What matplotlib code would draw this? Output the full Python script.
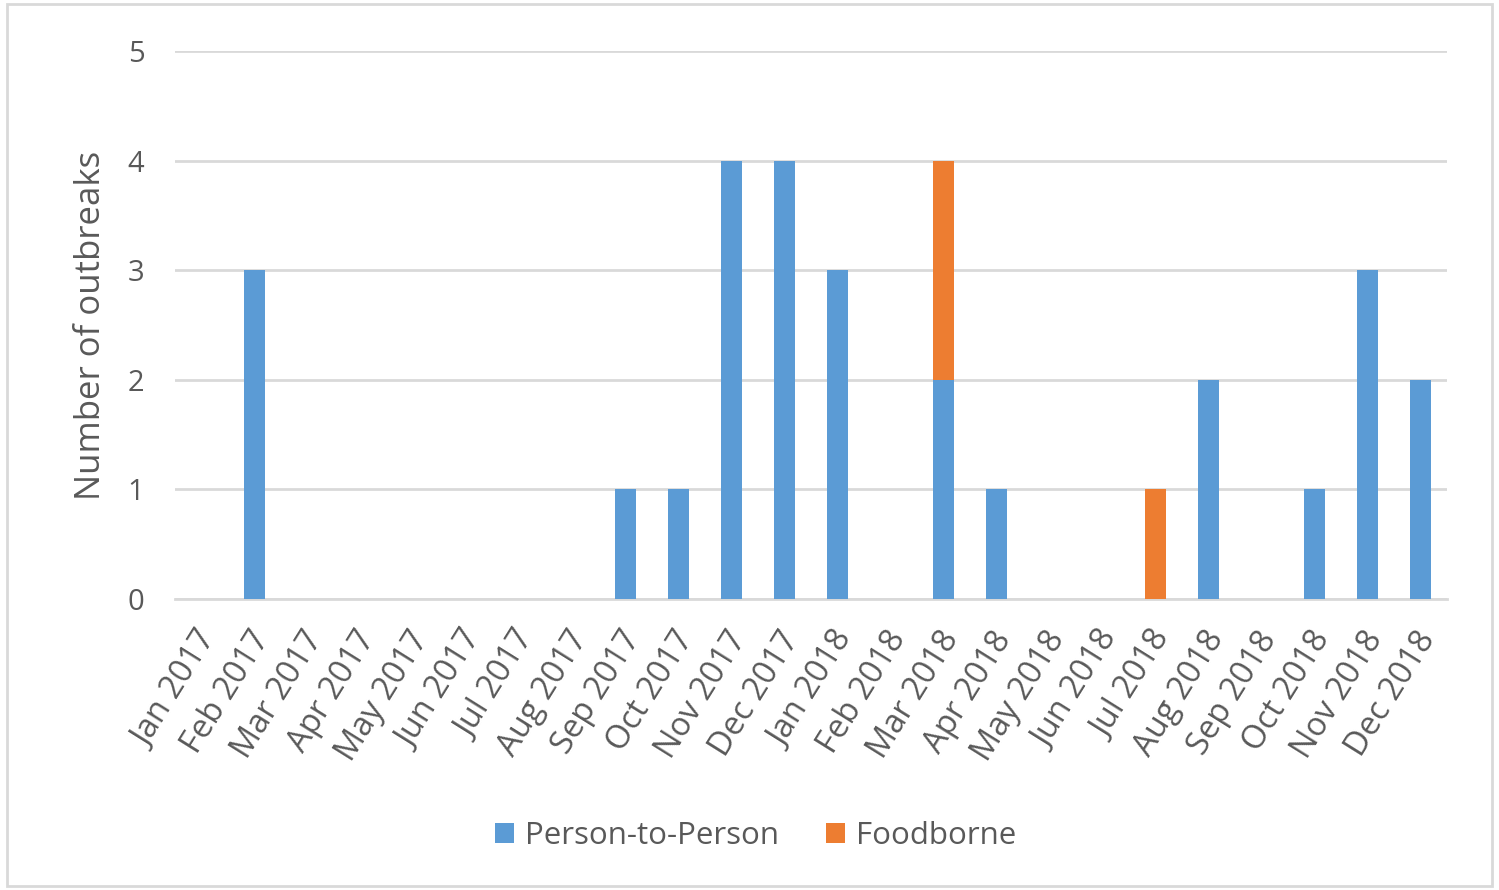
import numpy as np
import matplotlib.pyplot as plt
import matplotlib.transforms as mtransforms
from matplotlib.patches import Rectangle

plt.rcParams['font.family'] = ['Open Sans', 'DejaVu Sans']

months = ['Jan 2017', 'Feb 2017', 'Mar 2017', 'Apr 2017', 'May 2017', 'Jun 2017',
          'Jul 2017', 'Aug 2017', 'Sep 2017', 'Oct 2017', 'Nov 2017', 'Dec 2017',
          'Jan 2018', 'Feb 2018', 'Mar 2018', 'Apr 2018', 'May 2018', 'Jun 2018',
          'Jul 2018', 'Aug 2018', 'Sep 2018', 'Oct 2018', 'Nov 2018', 'Dec 2018']
person_to_person = [0, 3, 0, 0, 0, 0, 0, 0, 1, 1, 4, 4,
                    3, 0, 2, 1, 0, 0, 0, 2, 0, 1, 3, 2]
foodborne = [0, 0, 0, 0, 0, 0, 0, 0, 0, 0, 0, 0,
             0, 0, 2, 0, 0, 0, 1, 0, 0, 0, 0, 0]

blue = '#5B9BD5'
orange = '#ED7D31'
text_col = '#595959'

fig = plt.figure(figsize=(14.99, 8.90), dpi=100)
ax = fig.add_axes([0.1167, 0.327, 0.8486, 0.6157])

x = np.arange(len(months))
ax.bar(x, person_to_person, width=0.4, color=blue, label='Person-to-Person', zorder=3)
ax.bar(x, foodborne, width=0.4, bottom=person_to_person, color=orange,
       label='Foodborne', zorder=3)

ax.set_xlim(-0.5, len(months) - 0.5)
ax.set_ylim(0, 5)
ax.set_yticks(range(6))
ax.yaxis.grid(True, color='#D9D9D9', linewidth=2, zorder=0)
for s in ['top', 'right', 'left']:
    ax.spines[s].set_visible(False)
ax.spines['bottom'].set_color('#D9D9D9')
ax.spines['bottom'].set_linewidth(2)
ax.tick_params(axis='both', length=0, colors=text_col, labelsize=21)
ax.tick_params(axis='y', pad=22)
ax.tick_params(axis='x', pad=25, labelsize=23.5)
ax.set_xticks(x)
ax.set_xticklabels(months, rotation=58, ha='right', va='center', rotation_mode='anchor')

# nudge the rotated month labels a little to the right
shift = mtransforms.ScaledTranslation(6 / 72, 0, fig.dpi_scale_trans)
for lbl in ax.get_xticklabels():
    lbl.set_transform(lbl.get_transform() + shift)

ax.set_ylabel('Number of outbreaks', fontsize=25, color=text_col, labelpad=14)

fig.legend(loc='center', bbox_to_anchor=(0.504, 0.061), ncol=2, frameon=False,
           fontsize=22.5, labelcolor=text_col, handlelength=0.62, handleheight=0.62,
           columnspacing=1.5, handletextpad=0.35)

fig.patches.append(Rectangle((0.005, 0.005), 0.99, 0.99, transform=fig.transFigure,
                             fill=False, edgecolor='#D9D9D9', linewidth=2))

plt.savefig('out.png', dpi=100)
